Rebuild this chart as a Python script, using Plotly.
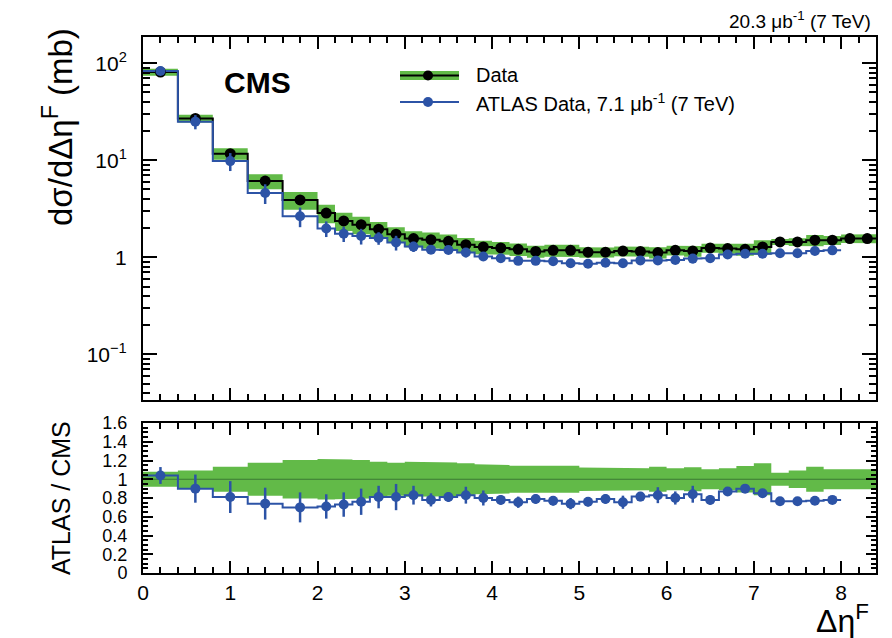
import plotly.graph_objects as go

# ---------------- data ----------------
cms_edges = [0.0, 0.4, 0.8, 1.2, 1.6, 2.0, 2.2, 2.4, 2.6, 2.8, 3.0, 3.2, 3.4, 3.6, 3.8,
             4.0, 4.2, 4.4, 4.6, 4.8, 5.0, 5.2, 5.4, 5.6, 5.8, 6.0, 6.2, 6.4, 6.6, 6.8,
             7.0, 7.2, 7.4, 7.6, 7.8, 8.0, 8.2, 8.4]
cms_values = [81, 27, 11.7, 6.1, 3.9, 2.86, 2.37, 2.17, 1.95, 1.73, 1.56, 1.52, 1.46,
              1.35, 1.28, 1.25, 1.21, 1.15, 1.18, 1.18, 1.13, 1.13, 1.16, 1.15, 1.12,
              1.18, 1.16, 1.25, 1.23, 1.21, 1.28, 1.44, 1.44, 1.50, 1.50, 1.56, 1.56]
cms_rel_unc = [0.081, 0.092, 0.134, 0.177, 0.205, 0.215, 0.212, 0.205, 0.187, 0.177,
               0.187, 0.187, 0.180, 0.170, 0.159, 0.152, 0.145, 0.141, 0.141, 0.145,
               0.124, 0.117, 0.117, 0.117, 0.134, 0.117, 0.127, 0.106, 0.117, 0.141,
               0.170, 0.070, 0.092, 0.134, 0.106, 0.099, 0.106]

atlas_edges = cms_edges[:36]
atlas_values = [83, 25, 9.8, 4.6, 2.65, 1.98, 1.75, 1.66, 1.58, 1.42, 1.29, 1.20, 1.19,
                1.12, 1.02, 0.98, 0.92, 0.92, 0.91, 0.87, 0.86, 0.88, 0.87, 0.93, 0.93,
                0.94, 0.97, 0.98, 1.07, 1.09, 1.09, 1.10, 1.10, 1.16, 1.18]
ratio_values = [1.04, 0.90, 0.81, 0.74, 0.70, 0.71, 0.73, 0.76, 0.81, 0.81, 0.83, 0.78,
                0.81, 0.83, 0.80, 0.78, 0.755, 0.79, 0.77, 0.74, 0.76, 0.79, 0.755, 0.815,
                0.83, 0.80, 0.84, 0.78, 0.87, 0.90, 0.85, 0.765, 0.765, 0.77, 0.78]
ratio_errors = [0.09, 0.15, 0.17, 0.17, 0.16, 0.13, 0.13, 0.14, 0.12, 0.14, 0.10, 0.07,
                0.05, 0.09, 0.08, 0.05, 0.06, 0.05, 0.05, 0.06, 0.05, 0.05, 0.07, 0.05,
                0.085, 0.07, 0.09, 0.05, 0.03, 0.03, 0.03, 0.02, 0.02, 0.02, 0.02]

y_tickvals = [0.1, 1, 10, 100]
y_ticktext = ["10<sup>\u22121</sup>", "1", "10<sup>1</sup>", "10<sup>2</sup>"]
x_tickvals = [0, 1, 2, 3, 4, 5, 6, 7, 8]

GREEN = "#62ba48"
BLUE = "#2c53a6"
FONT = "Liberation Sans, Arial, Helvetica, sans-serif"

# ---------------- helpers ----------------
def centers(edges):
    return [(edges[i] + edges[i + 1]) / 2 for i in range(len(edges) - 1)]

def band_polygon(edges, lo, hi):
    xs, ys = [], []
    for i in range(len(edges) - 1):
        xs += [edges[i], edges[i + 1]]
        ys += [hi[i], hi[i]]
    for i in reversed(range(len(edges) - 1)):
        xs += [edges[i + 1], edges[i]]
        ys += [lo[i], lo[i]]
    return xs, ys

cms_x = centers(cms_edges)
atlas_x = centers(atlas_edges)

fig = go.Figure()

# ---- top panel ----
cms_hi = [v * (1 + u) for v, u in zip(cms_values, cms_rel_unc)]
cms_lo = [v * (1 - u) for v, u in zip(cms_values, cms_rel_unc)]
bx, by = band_polygon(cms_edges, cms_lo, cms_hi)
fig.add_trace(go.Scatter(x=bx, y=by, fill="toself", fillcolor=GREEN, line=dict(width=0),
                         mode="lines", hoverinfo="skip", xaxis="x", yaxis="y"))
fig.add_trace(go.Scatter(x=cms_edges, y=cms_values + [cms_values[-1]], mode="lines",
                         line=dict(color="black", width=2, shape="hv"), xaxis="x", yaxis="y"))
fig.add_trace(go.Scatter(x=atlas_edges, y=atlas_values + [atlas_values[-1]], mode="lines",
                         line=dict(color=BLUE, width=2, shape="hv"), xaxis="x", yaxis="y"))
fig.add_trace(go.Scatter(x=cms_x, y=cms_values, mode="markers",
                         marker=dict(color="black", size=11), xaxis="x", yaxis="y"))
atlas_err_abs = [a * e / r for a, e, r in zip(atlas_values, ratio_errors, ratio_values)]
fig.add_trace(go.Scatter(x=atlas_x, y=atlas_values, mode="markers",
                         marker=dict(color=BLUE, size=10),
                         error_y=dict(type="data", array=atlas_err_abs, color=BLUE,
                                      thickness=2.5, width=0),
                         xaxis="x", yaxis="y"))

# ---- bottom panel ----
r_hi = [1 + u for u in cms_rel_unc]
r_lo = [1 - u for u in cms_rel_unc]
rx, ry = band_polygon(cms_edges, r_lo, r_hi)
fig.add_trace(go.Scatter(x=rx, y=ry, fill="toself", fillcolor=GREEN, line=dict(width=0),
                         mode="lines", hoverinfo="skip", xaxis="x2", yaxis="y2"))
fig.add_trace(go.Scatter(x=[cms_edges[0], cms_edges[-1]], y=[1, 1], mode="lines",
                         line=dict(color="#3b7a33", width=1), xaxis="x2", yaxis="y2"))
fig.add_trace(go.Scatter(x=atlas_edges, y=ratio_values + [ratio_values[-1]], mode="lines",
                         line=dict(color=BLUE, width=2, shape="hv"), xaxis="x2", yaxis="y2"))
fig.add_trace(go.Scatter(x=atlas_x, y=ratio_values, mode="markers",
                         marker=dict(color=BLUE, size=10),
                         error_y=dict(type="data", array=ratio_errors, color=BLUE,
                                      thickness=2.5, width=0),
                         xaxis="x2", yaxis="y2"))

# ---------------- layout ----------------
W, H = 892, 638
ml, mr, mt, mb = 143, 16, 37, 65
pw, ph = W - ml - mr, H - mt - mb

def px(xp):
    return (xp - ml) / pw

def py(yp):
    return (H - mb - yp) / ph

def axis_common(size):
    return dict(showline=True, linecolor="black", linewidth=2, mirror="allticks",
                ticks="inside", tickcolor="black", tickwidth=1.5, showgrid=False,
                zeroline=False, tickfont=dict(family=FONT, size=size, color="black"))

def minor(dt, ln):
    return dict(ticks="inside", dtick=dt, ticklen=ln, tickcolor="black",
                tickwidth=1.5, showgrid=False)

fig.update_layout(
    width=W, height=H, margin=dict(l=ml, r=mr, t=mt, b=mb, autoexpand=False),
    paper_bgcolor="white", plot_bgcolor="white", showlegend=False,
    font=dict(family=FONT, color="black"),
    xaxis=dict(domain=[0, 1], anchor="y", range=[0, 8.4], tickvals=x_tickvals,
               showticklabels=False, ticklen=12, minor=minor(0.2, 6), **axis_common(20)),
    yaxis=dict(domain=[py(400), 1], anchor="x", type="log", range=[-1.47, 2.27],
               tickmode="array", tickvals=y_tickvals, ticktext=y_ticktext, ticklen=14,
               ticklabelstandoff=10, minor=minor("D1", 7), **axis_common(21)),
    xaxis2=dict(domain=[0, 1], anchor="y2", range=[0, 8.4], tickvals=x_tickvals,
                ticklen=12, matches="x", minor=minor(0.2, 6), **axis_common(21)),
    yaxis2=dict(domain=[0, py(423)], anchor="x2", range=[0, 1.6], dtick=0.2, tick0=0,
                ticklen=10, ticklabelstandoff=10, minor=minor(0.05, 5),
                **axis_common(18)),
)

def note(text, x, y, size, xanchor="center", angle=0):
    return dict(text=text, x=px(x), y=py(y), xref="paper", yref="paper",
                xanchor=xanchor, yanchor="middle", textangle=angle, showarrow=False,
                font=dict(size=size, family=FONT, color="black"))

ann = [
    note("<b>CMS</b>", 257, 82, 30),
    note("20.3 \u03bcb<sup>-1</sup> (7 TeV)", 873, 20, 19, xanchor="right"),
    note("Data", 474, 75, 20, xanchor="left"),
    note("ATLAS Data, 7.1 \u03bcb<sup>-1</sup> (7 TeV)", 474, 102, 20, xanchor="left"),
    note("d\u03c3/d\u0394\u03b7<sup>F</sup> (mb)", 58, 127, 33, angle=-90),
    note("ATLAS / CMS", 61, 498, 25, angle=-90),
    note("\u0394\u03b7<sup>F</sup>", 871, 619, 32, xanchor="right"),
]
fig.update_layout(annotations=ann)

shapes = [
    dict(type="rect", xref="paper", yref="paper", x0=px(400), x1=px(459),
         y0=py(80), y1=py(71), fillcolor=GREEN, line=dict(width=0)),
    dict(type="line", xref="paper", yref="paper", x0=px(400), x1=px(459),
         y0=py(75.5), y1=py(75.5), line=dict(color="black", width=2)),
    dict(type="circle", xref="paper", yref="paper", x0=px(423), x1=px(433),
         y0=py(80.5), y1=py(70.5), fillcolor="black", line=dict(width=0)),
    dict(type="line", xref="paper", yref="paper", x0=px(400), x1=px(459),
         y0=py(102), y1=py(102), line=dict(color=BLUE, width=2)),
    dict(type="circle", xref="paper", yref="paper", x0=px(423), x1=px(433),
         y0=py(107), y1=py(97), fillcolor=BLUE, line=dict(width=0)),
]
fig.update_layout(shapes=shapes)

fig.write_html("out.html", config={"displayModeBar": False},
               post_script="document.body.style.margin='0px';")
